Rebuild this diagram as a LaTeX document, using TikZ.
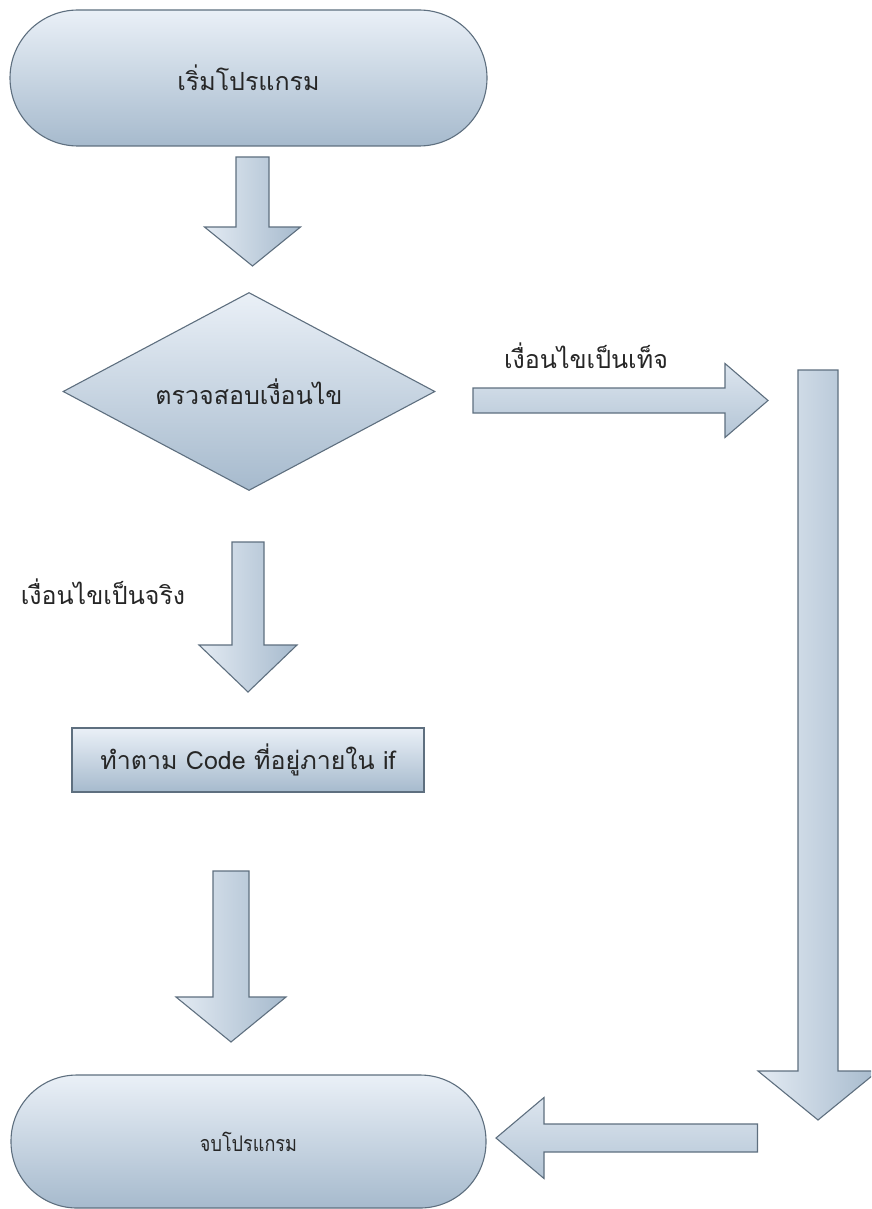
\documentclass[tikz,border=0pt]{standalone}
\usepackage{fontspec}
\newfontfamily\thai[Script=Thai]{Loma}
\usetikzlibrary{shapes.geometric}
\definecolor{edgec}{HTML}{5E6F7F}
\definecolor{lightc}{HTML}{EAF0F7}
\definecolor{darkc}{HTML}{A6BACD}
\definecolor{txt}{HTML}{262626}

\tikzset{
  shape base/.style={draw=edgec, line width=1.1pt, top color=lightc, bottom color=darkc,
                     text=txt, inner sep=0pt, font=\thai},
  terminal/.style={shape base, rectangle, rounded corners=#1},
  decision/.style={shape base, diamond, aspect=1.88},
  process/.style={shape base, rectangle},
  label/.style={text=txt, font=\thai, inner sep=0pt},
  big/.style={font=\thai\fontsize{25}{30}\selectfont},
  vblock/.style={draw=edgec, line width=1.1pt, left color=lightc!90!darkc, right color=darkc, line join=miter},
  hblock/.style={draw=edgec, line width=1.1pt, top color=lightc!80!darkc, bottom color=darkc!80!lightc, line join=miter}
}

% vertical block arrow: centre x, top, head start, tip, half shaft, half head
\newcommand\varrowblock[6]{%
  \path[vblock] ({#1-#5},#2) -- ({#1+#5},#2) -- ({#1+#5},#3) -- ({#1+#6},#3)
     -- (#1,#4) -- ({#1-#6},#3) -- ({#1-#5},#3) -- cycle;}
% horizontal block arrow: centre y, tail x, head start x, tip x, half shaft, half head
\newcommand\harrowblock[6]{%
  \path[hblock] (#2,{#1-#5}) -- (#3,{#1-#5}) -- (#3,{#1-#6}) -- (#4,#1)
     -- (#3,{#1+#6}) -- (#3,{#1+#5}) -- (#2,{#1+#5}) -- cycle;}

\begin{document}
\begin{tikzpicture}[x=1pt,y=-1pt]
\useasboundingbox (0,0) rectangle (871,1209);
\clip (0,0) rectangle (871,1209);

% start / end terminals
\node[terminal=68pt, minimum width=477pt, minimum height=136pt, big]
  (start) at (248.5,78) {เริ่มโปรแกรม};
\node[terminal=66pt, minimum width=475pt, minimum height=133pt, font=\thai\fontsize{21.5}{26}\selectfont]
  (finish) at (248.5,1141.5) {\scalebox{0.84}[1]{จบโปรแกรม}};

% condition check
\node[decision, minimum width=372pt, minimum height=198pt, big]
  (check) at (249,391.5) {ตรวจสอบเงื่อนไข};

% body of the if
\node[process, minimum width=352pt, minimum height=64pt, big]
  (body) at (248,760) {ทำตาม Code ที่อยู่ภายใน if};

% branch labels
\node[label, big] (lfalse) at (586,356) {เงื่อนไขเป็นเท็จ};
\node[label, big] (ltrue) at (103,592) {เงื่อนไขเป็นจริง};

% block arrows
\varrowblock{252.5}{157}{227}{266}{16.5}{48}
\varrowblock{248}{542}{645}{692}{16}{49}
\varrowblock{231}{871}{997}{1042}{18}{55}
\varrowblock{818}{370}{1071}{1120}{20}{60}
\harrowblock{400.5}{473}{725}{768}{12.5}{37}
\harrowblock{1138}{757.5}{544}{496}{14}{40.5}
\end{tikzpicture}
\end{document}
